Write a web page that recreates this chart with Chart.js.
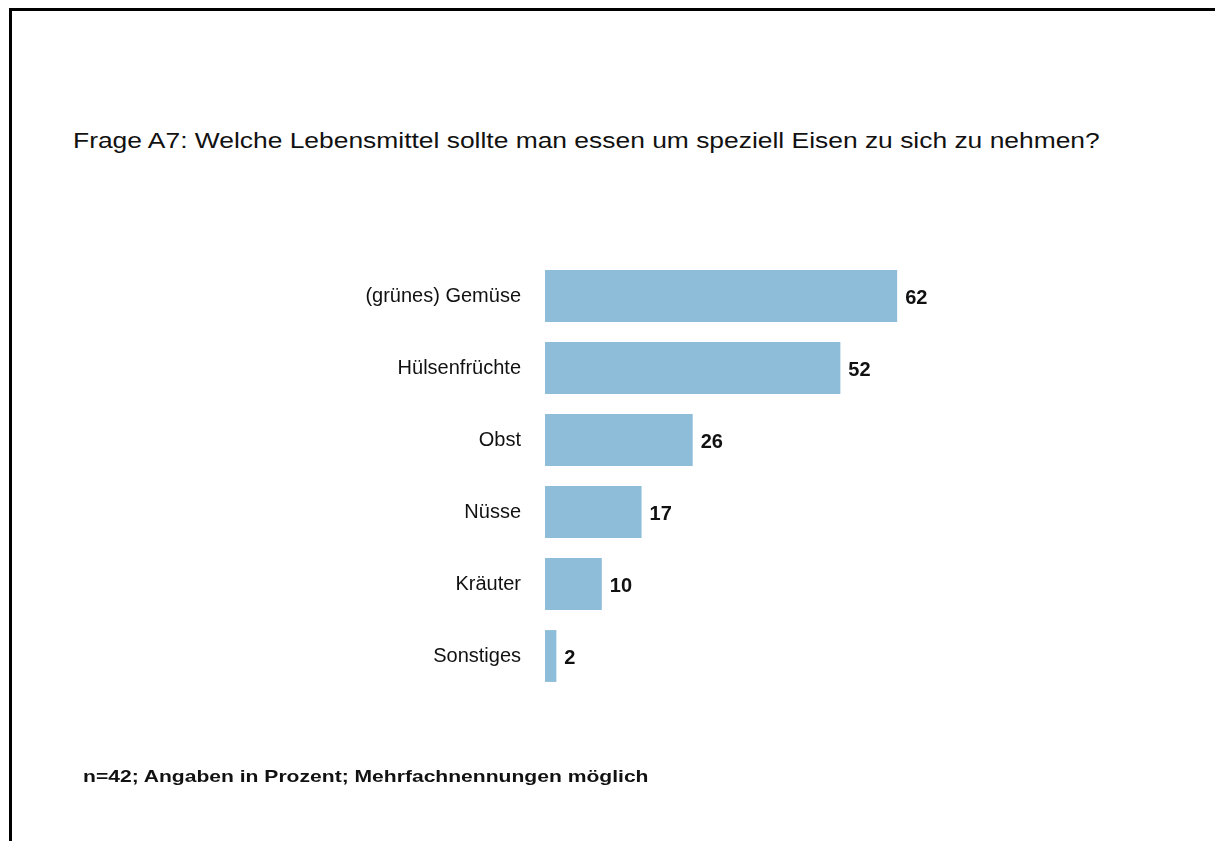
<!DOCTYPE html>
<html>
<head>
<meta charset="utf-8">
<script src="https://cdn.jsdelivr.net/npm/chart.js@4"></script>
<style>
  html, body { margin: 0; padding: 0; background: #fff; }
  body { width: 1215px; height: 841px; position: relative; overflow: hidden; font-family: "Liberation Sans", Arial, sans-serif; }
  #frame { position: absolute; left: 9px; top: 8px; right: 0; bottom: 0; border-top: 3px solid #000; border-left: 3px solid #000; }
  #title { position: absolute; left: 73px; top: 128px; font-size: 22px; color: #111; white-space: nowrap; transform: scaleX(1.2); transform-origin: left top; }
  #note { position: absolute; left: 83px; top: 767px; font-size: 17px; font-weight: bold; color: #111; white-space: nowrap; transform: scaleX(1.24); transform-origin: left top; }
  #wrap { position: absolute; left: 0; top: 0; width: 1215px; height: 841px; }
</style>
</head>
<body>
<div id="frame"></div>
<div id="title">Frage A7: Welche Lebensmittel sollte man essen um speziell Eisen zu sich zu nehmen?</div>
<div id="wrap"><canvas id="chart" width="1215" height="841"></canvas></div>
<div id="note">n=42; Angaben in Prozent; Mehrfachnennungen möglich</div>
<script>
// Daten aus der Grafik
const categories = ["(grünes) Gemüse", "Hülsenfrüchte", "Obst", "Nüsse", "Kräuter", "Sonstiges"];
const values = [62, 52, 26, 17, 10, 2];

// Werte rechts neben den Balken
const valueLabels = {
  id: "valueLabels",
  afterDatasetsDraw(chart) {
    const ctx = chart.ctx;
    const meta = chart.getDatasetMeta(0);
    ctx.save();
    ctx.font = "bold 20px 'Liberation Sans', Arial, sans-serif";
    ctx.fillStyle = "#111";
    ctx.textAlign = "left";
    ctx.textBaseline = "middle";
    meta.data.forEach((bar, i) => {
      ctx.fillText(String(values[i]), bar.x + 8, bar.y + 2);
    });
    ctx.restore();
  }
};

new Chart(document.getElementById("chart"), {
  type: "bar",
  data: {
    labels: categories,
    datasets: [{
      data: values,
      backgroundColor: "rgb(141, 189, 216)",
      borderWidth: 0,
      categoryPercentage: 0.8,
      barPercentage: 0.9
    }]
  },
  options: {
    indexAxis: "y",
    responsive: false,
    animation: false,
    layout: { padding: { top: 260, bottom: 149, right: 102, left: 0 } },
    plugins: { legend: { display: false }, tooltip: { enabled: false } },
    scales: {
      x: { display: false, min: 0, max: 100 },
      y: {
        grid: { display: false, drawTicks: false },
        border: { display: false },
        afterFit(scale) { scale.width = 545; },
        ticks: {
          padding: 24,
          color: "#111",
          font: { size: 20, family: "'Liberation Sans', Arial, sans-serif" }
        }
      }
    }
  },
  plugins: [valueLabels]
});
</script>
</body>
</html>
